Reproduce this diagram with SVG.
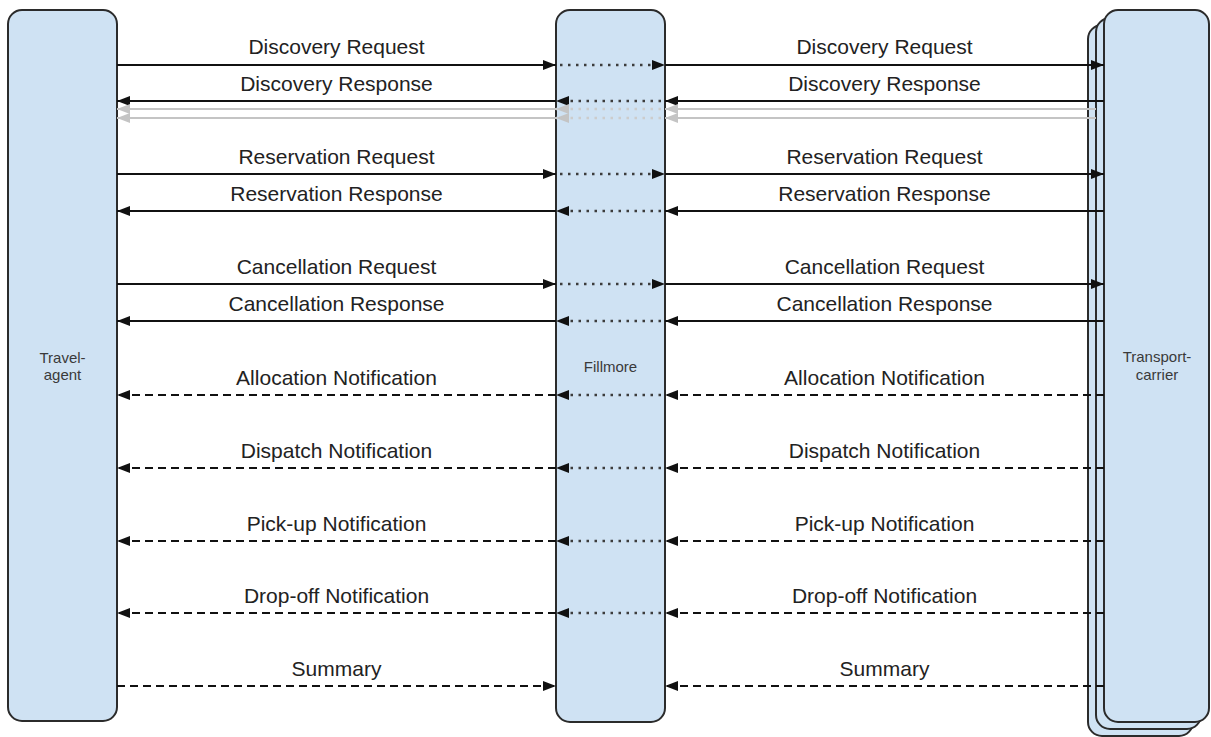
<svg xmlns="http://www.w3.org/2000/svg" width="1211" height="737" viewBox="0 0 1211 737">
<style>
.box{fill:#cfe2f3;stroke:#2b2b2b;stroke-width:2}
.nl{font-family:"Liberation Sans",Arial,sans-serif;font-size:15px;fill:#3a3a3a;text-anchor:middle}
.lb{font-family:"Liberation Sans",Arial,sans-serif;font-size:21px;fill:#222;text-anchor:middle}
.s{stroke:#111;stroke-width:2;fill:none;marker-end:url(#ah)}
.d{stroke:#111;stroke-width:2;fill:none;stroke-dasharray:8 5;marker-end:url(#ah)}
.t{stroke:#3c3c3c;stroke-width:2.5;fill:none;stroke-dasharray:2.5 5.5;marker-end:url(#ah)}
.g{stroke:#c4c4c4;stroke-width:2;fill:none;marker-end:url(#ahg)}
.gt{stroke:#cccccc;stroke-width:2.5;fill:none;stroke-dasharray:2.5 5.5;marker-end:url(#ahg)}
</style>
<defs>
<marker id="ah" viewBox="0 0 13 10" refX="13" refY="5" markerWidth="13" markerHeight="10" markerUnits="userSpaceOnUse" orient="auto"><path d="M0,0 L13,5 L0,10 Z" fill="#111"/></marker>
<marker id="ahg" viewBox="0 0 13 10" refX="13" refY="5" markerWidth="13" markerHeight="10" markerUnits="userSpaceOnUse" orient="auto"><path d="M0,0 L13,5 L0,10 Z" fill="#c4c4c4"/></marker>
</defs>
<rect width="1211" height="737" fill="#fff"/>
<g id="travel-agent">
<rect class="box" x="8" y="10" width="109" height="711" rx="14"/>
<text class="nl" x="62.5" y="363">Travel-</text>
<text class="nl" x="62.5" y="380">agent</text>
</g>
<g id="fillmore">
<rect class="box" x="556" y="10" width="109" height="712" rx="14"/>
<text class="nl" x="610.5" y="372">Fillmore</text>
</g>
<g id="transport-carrier">
<rect class="box" x="1088" y="25" width="105" height="711" rx="14"/>
<rect class="box" x="1096" y="18" width="105" height="711" rx="14"/>
<rect class="box" x="1104" y="10" width="105" height="712" rx="14"/>
<text class="nl" x="1157" y="362">Transport-</text>
<text class="nl" x="1157" y="380">carrier</text>
</g>
<g id="connectors">
<path class="s" d="M117,65H556"/><path class="t" d="M560,65H665"/><path class="s" d="M665,65H1104"/>
<path class="s" d="M556,101H117"/><path class="t" d="M661,101H556"/><path class="s" d="M1104,101H665"/>
<path class="g" d="M556,109H117"/><path class="gt" d="M661,109H556"/><path class="g" d="M1096,109H665"/>
<path class="g" d="M556,118H117"/><path class="gt" d="M661,118H556"/><path class="g" d="M1096,118H665"/>
<path class="s" d="M117,174H556"/><path class="t" d="M560,174H665"/><path class="s" d="M665,174H1104"/>
<path class="s" d="M556,211H117"/><path class="t" d="M661,211H556"/><path class="s" d="M1104,211H665"/>
<path class="s" d="M117,284H556"/><path class="t" d="M560,284H665"/><path class="s" d="M665,284H1104"/>
<path class="s" d="M556,321H117"/><path class="t" d="M661,321H556"/><path class="s" d="M1104,321H665"/>
<path class="d" d="M556,395H117"/><path class="t" d="M661,395H556"/><path class="d" d="M1104,395H665"/>
<path class="d" d="M556,468H117"/><path class="t" d="M661,468H556"/><path class="d" d="M1104,468H665"/>
<path class="d" d="M556,541H117"/><path class="t" d="M661,541H556"/><path class="d" d="M1104,541H665"/>
<path class="d" d="M556,613H117"/><path class="t" d="M661,613H556"/><path class="d" d="M1104,613H665"/>
<path class="d" d="M117,686H556"/><path class="d" d="M1104,686H665"/>
<text class="lb" x="336.5" y="54">Discovery Request</text><text class="lb" x="884.5" y="54">Discovery Request</text>
<text class="lb" x="336.5" y="91">Discovery Response</text><text class="lb" x="884.5" y="91">Discovery Response</text>
<text class="lb" x="336.5" y="164">Reservation Request</text><text class="lb" x="884.5" y="164">Reservation Request</text>
<text class="lb" x="336.5" y="201">Reservation Response</text><text class="lb" x="884.5" y="201">Reservation Response</text>
<text class="lb" x="336.5" y="274">Cancellation Request</text><text class="lb" x="884.5" y="274">Cancellation Request</text>
<text class="lb" x="336.5" y="311">Cancellation Response</text><text class="lb" x="884.5" y="311">Cancellation Response</text>
<text class="lb" x="336.5" y="385">Allocation Notification</text><text class="lb" x="884.5" y="385">Allocation Notification</text>
<text class="lb" x="336.5" y="458">Dispatch Notification</text><text class="lb" x="884.5" y="458">Dispatch Notification</text>
<text class="lb" x="336.5" y="531">Pick-up Notification</text><text class="lb" x="884.5" y="531">Pick-up Notification</text>
<text class="lb" x="336.5" y="603">Drop-off Notification</text><text class="lb" x="884.5" y="603">Drop-off Notification</text>
<text class="lb" x="336.5" y="676">Summary</text><text class="lb" x="884.5" y="676">Summary</text>
</g>
</svg>
